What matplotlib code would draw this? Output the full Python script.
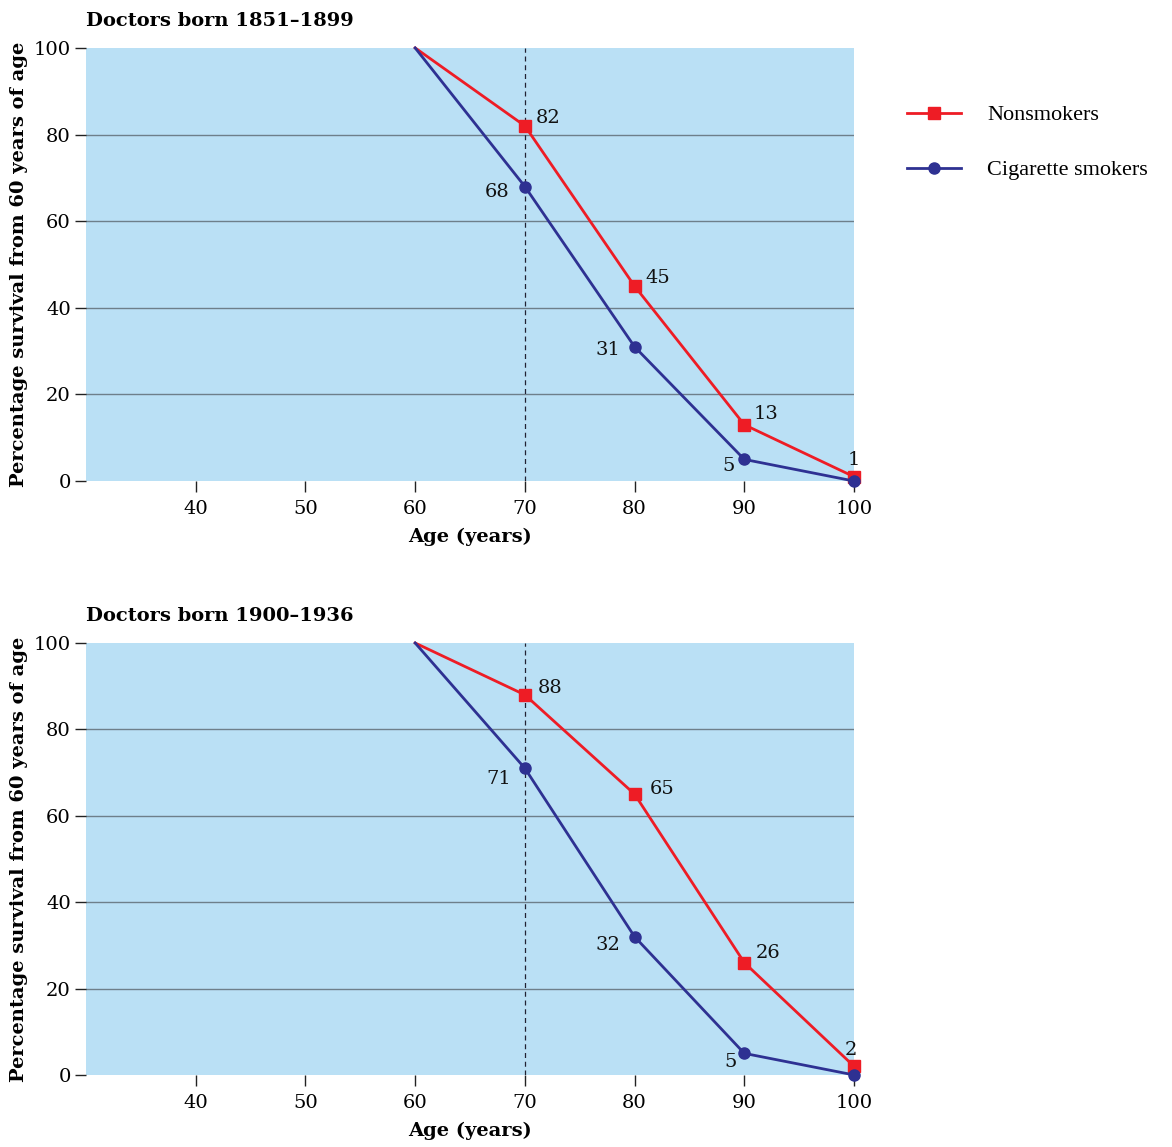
import matplotlib
matplotlib.use("Agg")
import matplotlib.pyplot as plt

ages = [60, 70, 80, 90, 100]
titles = ["Doctors born 1851\u20131899", "Doctors born 1900\u20131936"]
nonsmokers = [[100, 82, 45, 13, 1], [100, 88, 65, 26, 2]]
smokers = [[100, 68, 31, 5, 0], [100, 71, 32, 5, 0]]
x_ticks = [40, 50, 60, 70, 80, 90, 100]
y_ticks = [0, 20, 40, 60, 80, 100]
series_names = ["Nonsmokers", "Cigarette smokers"]

RED = "#ee1c25"
BLUE = "#2e3192"
BG = "#bae0f5"
GRID = "#6e7f8a"

plt.rcParams['font.family'] = ['DejaVu Serif']

fig = plt.figure(figsize=(11.72, 11.47), dpi=100)
positions = [[0.0734, 0.5806, 0.6553, 0.3776], [0.0734, 0.0628, 0.6553, 0.3766]]

# label offsets (points): nonsmokers right-up, smokers left
ns_off = [(17, 6), (17, 6), (16, 8), (0, 12)]
sm_off = [(-20, -4), (-19, -2), (-11, -5), (0, 0)]
ns_off_b = [(18, 5), (20, 4), (17, 7), (-2, 12)]
sm_off_b = [(-19, -8), (-19, -6), (-10, -6), (0, 0)]
all_ns_off = [ns_off, ns_off_b]
all_sm_off = [sm_off, sm_off_b]

for i, pos in enumerate(positions):
    ax = fig.add_axes(pos)
    ax.set_facecolor(BG)
    for s in ax.spines.values():
        s.set_visible(False)
    ax.set_xlim(30, 100)
    ax.set_ylim(0, 100)
    for y in y_ticks[1:-1]:
        ax.axhline(y, color=GRID, lw=1.0, zorder=1)
    ax.axvline(70, color="#222233", lw=0.9, ls=(0, (4, 3)), zorder=1)
    l1, = ax.plot(ages, nonsmokers[i], color=RED, lw=2.0, marker="s", ms=8.5,
                  markevery=[1, 2, 3, 4], zorder=3, clip_on=False, label=series_names[0])
    l2, = ax.plot(ages, smokers[i], color=BLUE, lw=2.0, marker="o", ms=8,
                  markevery=[1, 2, 3, 4], zorder=4, clip_on=False, label=series_names[1])
    for j, (a, v) in enumerate(zip(ages[1:], nonsmokers[i][1:])):
        dx, dy = all_ns_off[i][j]
        ax.annotate(str(v), (a, v), xytext=(dx, dy), textcoords="offset points",
                    ha="center", va="center", fontsize=14, color="#111111")
    for j, (a, v) in enumerate(zip(ages[1:-1], smokers[i][1:-1])):
        dx, dy = all_sm_off[i][j]
        ax.annotate(str(v), (a, v), xytext=(dx, dy), textcoords="offset points",
                    ha="center", va="center", fontsize=14, color="#111111")
    ax.set_xticks(x_ticks)
    ax.set_yticks(y_ticks)
    ax.tick_params(axis="both", labelsize=14, length=8, width=1.0, color="#222222",
                   direction="out")
    ax.tick_params(axis="x", pad=6)
    ax.tick_params(axis="y", pad=3)
    ax.set_xlabel("Age (years)", fontsize=14, fontweight="bold", labelpad=7)
    ax.set_ylabel("Percentage survival from 60 years of age", fontsize=14,
                  fontweight="bold", labelpad=4)
    ax.set_title(titles[i], fontsize=14, fontweight="bold", loc="left",
                 x=0.0, pad=16)
    if i == 0:
        fig.legend(handles=[l1, l2], loc="upper left", bbox_to_anchor=(0.757, 0.926),
                   frameon=False, handlelength=2.4, labelspacing=1.55, handletextpad=1.2,
                   prop={"family": "Liberation Serif", "size": 16})

fig.savefig("out.png", dpi=100)
